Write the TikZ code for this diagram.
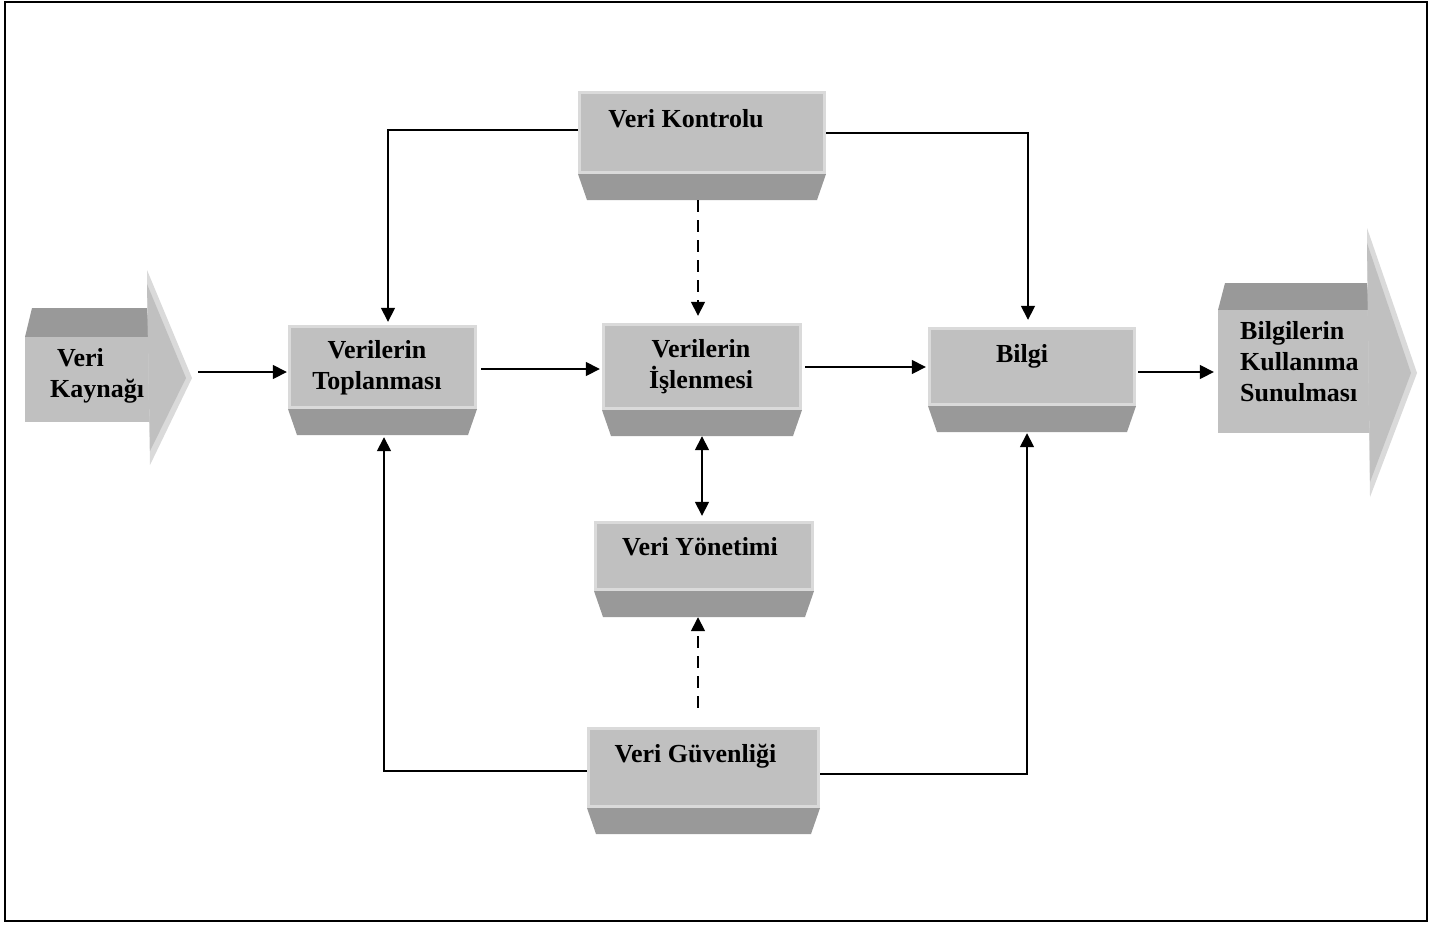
\documentclass[tikz,border=0pt]{standalone}
\usepackage{fontspec}
\setmainfont{Liberation Serif}
\usetikzlibrary{arrows.meta,calc}

\definecolor{facegray}{HTML}{C0C0C0}
\definecolor{shadegray}{HTML}{999999}
\definecolor{hilite}{HTML}{DADADA}

\tikzset{
  % bevelled 3D box: light face on top, darker trapezoid underneath
  bevel/.style={inner sep=0pt, path picture={
      \coordinate (bbnw) at (path picture bounding box.north west);
      \coordinate (bbse) at (path picture bounding box.south east);
      \coordinate (bbsw) at (path picture bounding box.south west);
      \fill[hilite] (bbnw) rectangle ($(bbse)+(0pt,26pt)$);
      \fill[facegray] ($(bbnw)+(3pt,-3pt)$) rectangle ($(bbse)+(-3pt,29pt)$);
      \fill[shadegray] ($(bbsw)+(0pt,26pt)$) -- ($(bbse)+(0pt,26pt)$)
        -- ($(bbse)+(-9pt,0pt)$) -- ($(bbsw)+(9pt,0pt)$) -- cycle;
    }},
  ghost/.style={inner sep=0pt},
  lbl/.style={inner sep=0pt, font=\bfseries\fontsize{26}{31}\selectfont},
  tip/.style={Triangle[length=14pt,width=14pt]},
  conn/.style={line width=1.6pt, -{Triangle[length=14pt,width=14pt]}},
  dconn/.style={conn, dash pattern=on 12pt off 8pt},
}

\begin{document}
\begin{tikzpicture}[x=1pt,y=-1pt]
\useasboundingbox (0,0) rectangle (1439,927);
\fill[white] (0,0) rectangle (1439,927);

% outer frame
\draw[line width=2.5pt] (5,2) rectangle (1427,921);

% left block arrow: Veri Kaynagi
\node[ghost, minimum width=167pt, minimum height=195pt] (vk) at (108.5,367.5) {};
\fill[shadegray] (32,308) -- (147,308) -- (150,337) -- (25,337) -- cycle;
\fill[facegray] (25,337) rectangle (150,422);
\fill[hilite] (147,270) -- (192,378) -- (150,465) -- cycle;
\fill[facegray] (147,284) -- (186,378) -- (150,451) -- cycle;
% (base anchor of a multi-line node sits on its last line)
\node[lbl, align=left, anchor=base west] (vk-t) at (50,397) {\hspace*{7pt}Veri\\Kaynağı};

% right block arrow: Bilgilerin Kullanima Sunulmasi
\node[ghost, minimum width=199pt, minimum height=269pt] (bk) at (1317.5,362.5) {};
\fill[shadegray] (1225,283) -- (1367,283) -- (1370,310) -- (1218,310) -- cycle;
\fill[facegray] (1218,310) rectangle (1370,433);
\fill[hilite] (1367,228) -- (1417,373) -- (1370,497) -- cycle;
\fill[facegray] (1367,243) -- (1411,373) -- (1370,482) -- cycle;
\node[lbl, align=left, anchor=base west] (bk-t) at (1240,401) {Bilgilerin\\Kullanıma\\Sunulması};

% process boxes
\node[bevel, minimum width=248pt, minimum height=109pt] (kon) at (702,145.5) {};
\node[bevel, minimum width=189pt, minimum height=110pt] (top) at (382.5,380) {};
\node[bevel, minimum width=200pt, minimum height=113pt] (isl) at (702,379.5) {};
\node[bevel, minimum width=208pt, minimum height=105pt] (bilgi) at (1032,379.5) {};
\node[bevel, minimum width=220pt, minimum height=96pt] (yon) at (704,569) {};
\node[bevel, minimum width=233pt, minimum height=107pt] (guv) at (703.5,780.5) {};

\node[lbl, anchor=base] (kon-t) at (686,127) {Veri Kontrolu};
\node[lbl, align=center, anchor=base] (top-t) at (377,389) {Verilerin\\Toplanması};
\node[lbl, align=center, anchor=base] (isl-t) at (701,388) {Verilerin\\İşlenmesi};
\node[lbl, anchor=base] (bilgi-t) at (1022,362) {Bilgi};
\node[lbl, anchor=base] (yon-t) at (700,555) {Veri Yönetimi};
\node[lbl, anchor=base] (guv-t) at (695.5,762) {Veri Güvenliği};

% main flow
\draw[conn, shorten <=6pt, shorten >=1pt] ([yshift=-4.5pt]vk.east) -- ([yshift=-4.5pt]vk.east -| top.west);
\draw[conn, shorten <=4pt, shorten >=2pt] ([yshift=11pt]top.east) -- ([yshift=11pt]top.east -| isl.west);
\draw[conn, shorten <=3pt, shorten >=2pt] ([yshift=12.5pt]isl.east) -- ([yshift=12.5pt]isl.east -| bilgi.west);
\draw[conn, shorten <=2pt, shorten >=4pt] ([yshift=7.5pt]bilgi.east) -- ([yshift=7.5pt]bilgi.east -| bk.west);

% control links
\draw[conn, shorten >=3pt] ([yshift=15.5pt]kon.west) -| ([xshift=5.5pt]top.north);
\draw[conn, shorten >=7pt] ([yshift=12.5pt]kon.east) -| ([xshift=-4pt]bilgi.north);
\draw[dconn, shorten >=7pt] ([xshift=-4pt]kon.south) -- ([xshift=-4pt]isl.north);

% management link
\draw[line width=1.6pt, {Triangle[length=14pt,width=14pt]}-{Triangle[length=14pt,width=14pt]}, shorten >=5pt]
  (isl.south) -- (isl.south |- yon.north);

% security links
\draw[conn, shorten >=2pt] ([yshift=9.5pt]guv.west) -| ([xshift=1.5pt]top.south);
\draw[conn, shorten >=1pt] ([yshift=6.5pt]guv.east) -| ([xshift=-5pt]bilgi.south);
\draw[dconn, shorten <=19pt] ([xshift=-5.5pt]guv.north) -- ([xshift=-5.5pt]guv.north |- yon.south);
\end{tikzpicture}
\end{document}
